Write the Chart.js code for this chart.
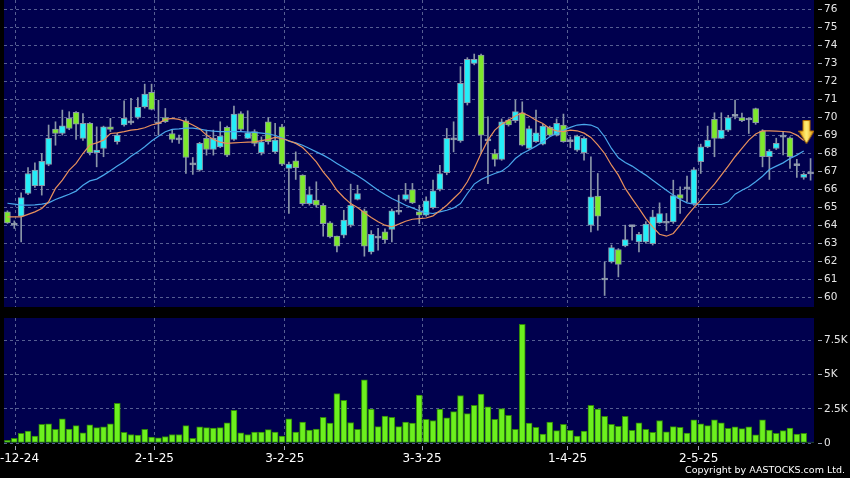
<!DOCTYPE html>
<html>
<head>
<meta charset="utf-8">
<title>Daily chart</title>
<script src="https://cdn.jsdelivr.net/npm/chart.js@4.4.1/dist/chart.umd.min.js"></script>
<style>
  html, body { margin: 0; padding: 0; background: #000; }
  #wrap { position: relative; width: 850px; height: 478px; overflow: hidden; background: #000; }
  #priceChart { position: absolute; left: 0; top: 0; }
  #volChart { position: absolute; left: 0; top: 310px; }
  #copy { position: absolute; right: 5px; top: 464px; color: #fff; font: 9.5px 'DejaVu Sans', sans-serif; white-space: nowrap; }
</style>
</head>
<body>
<div id="wrap">
  <canvas id="priceChart" width="850" height="307"></canvas>
  <canvas id="volChart" width="850" height="168"></canvas>
  <div id="copy">Copyright by AASTOCKS.com Ltd.</div>
</div>
<script>
// one value per trading day, oldest first
const opens = [64.74,64.0,64.5,65.76,66.2,66.2,67.37,69.33,69.09,69.93,
  70.26,68.82,69.65,68.02,68.26,69.46,68.63,69.56,69.68,69.98,
  70.57,71.37,69.63,69.98,69.09,68.74,69.8,67.35,67.06,68.82,
  68.2,68.35,69.43,68.76,70.2,68.82,69.19,68.02,69.74,68.07,
  69.46,67.15,67.57,66.78,65.2,65.39,65.11,64.13,63.39,63.44,
  64.0,65.43,64.8,62.52,63.28,63.63,63.76,64.72,65.43,65.98,
  64.74,64.56,64.98,65.98,66.91,68.74,68.68,70.79,72.98,73.44,
  68.68,67.98,67.65,69.83,69.8,70.24,68.26,68.63,68.5,69.43,
  69.0,69.56,68.64,68.17,68.02,64.0,65.61,60.96,61.96,62.65,
  62.85,63.92,63.07,63.07,62.98,64.13,64.11,64.18,65.7,66.02,
  65.2,67.52,68.35,69.87,68.82,69.28,70.04,69.98,69.84,70.48,
  69.24,67.8,68.26,68.89,68.85,67.31,66.65,66.85];
const highs = [64.8,64.24,65.8,67.2,67.46,67.98,69.56,69.74,70.39,70.3,
  70.3,70.2,69.7,69.46,69.5,69.93,69.1,70.91,71.04,71.09,
  71.83,71.83,70.94,70.48,69.3,69.0,69.9,67.76,68.6,69.28,
  69.28,69.74,69.5,70.61,70.3,70.35,69.3,68.9,69.98,69.65,
  69.6,67.5,68.07,66.8,66.13,66.41,65.2,64.2,63.4,64.83,
  66.28,66.22,64.9,63.7,63.82,63.8,64.9,65.67,66.32,66.32,
  65.11,65.57,66.5,67.33,69.37,69.74,72.8,73.3,73.5,73.5,
  70.02,68.2,69.9,69.9,70.94,70.85,69.5,70.39,69.6,69.5,
  69.9,70.17,68.9,69.0,68.9,67.8,66.87,61.96,62.9,62.7,
  64.0,64.0,63.6,64.2,64.83,65.24,64.65,66.5,66.13,66.72,
  67.2,68.5,69.5,70.24,70.24,70.1,70.94,70.22,69.95,70.5,
  69.3,68.2,68.83,69.2,68.9,67.65,66.9,67.7];
const lows = [64.1,63.82,63.07,65.7,66.1,65.67,67.3,68.44,69.0,69.3,
  68.76,68.7,67.9,67.24,67.8,69.2,68.5,69.5,69.6,69.9,
  70.5,70.4,69.0,69.7,68.6,68.54,66.87,66.82,67.0,67.89,
  67.89,68.3,67.8,68.7,69.2,68.8,68.4,67.9,68.5,68.0,
  67.3,64.65,66.54,65.1,65.11,65.0,63.39,63.3,62.52,63.3,
  63.9,65.4,62.28,62.4,62.61,63.0,63.07,64.6,65.35,65.2,
  64.09,64.5,64.9,65.9,66.8,68.07,68.6,70.67,72.9,67.98,
  66.3,67.28,67.6,69.5,69.7,68.4,68.2,68.6,68.45,68.95,
  68.95,68.6,68.3,68.1,67.61,63.63,63.72,60.1,61.9,61.13,
  62.8,63.17,62.52,63.0,62.9,64.1,63.7,64.1,64.65,65.3,
  65.1,66.87,68.3,67.8,68.8,69.2,69.9,69.75,69.09,69.6,
  67.24,66.54,68.2,67.9,67.15,66.65,66.55,66.5];
const closes = [64.13,64.05,65.54,66.87,67.06,67.54,68.82,69.09,69.52,69.37,
  69.61,69.65,68.02,68.17,69.46,69.31,69.0,69.93,69.72,70.54,
  71.28,70.43,69.67,69.74,68.76,68.78,67.76,67.39,68.54,68.2,
  68.82,68.94,67.89,70.17,69.31,69.13,68.54,68.63,68.63,68.72,
  67.39,67.39,67.2,65.2,65.7,65.11,64.09,63.35,62.83,64.28,
  65.11,65.76,62.83,63.5,63.32,63.2,64.8,64.78,65.7,65.24,
  64.56,65.35,65.91,66.87,68.82,68.78,71.87,73.2,73.2,69.0,
  68.74,67.65,69.74,69.56,70.3,68.44,69.37,69.13,69.5,69.0,
  69.65,68.63,68.68,68.94,68.82,65.57,64.5,61.0,62.76,61.83,
  63.2,63.96,63.5,64.06,64.46,64.65,64.15,65.65,65.48,66.06,
  67.09,68.35,68.72,68.82,69.28,69.98,70.08,69.8,69.88,69.69,
  67.8,68.11,68.54,68.93,67.8,67.35,66.82,66.89];
// orange (short) and blue (long) moving averages as drawn
const maShort = [64.46,64.46,64.46,64.6,64.74,64.93,65.3,66.04,66.5,67.06,
  67.43,67.98,68.45,68.57,68.72,69.09,69.13,69.19,69.28,69.32,
  69.41,69.56,69.65,69.87,69.93,69.87,69.74,69.56,69.35,69.0,
  68.76,68.61,68.54,68.57,68.59,68.61,68.63,68.69,68.76,68.87,
  68.81,68.69,68.54,68.31,67.93,67.52,66.96,66.5,65.94,65.54,
  65.2,64.98,64.69,64.43,64.19,64.0,63.91,64.06,64.22,64.33,
  64.37,64.4,64.52,64.8,65.11,65.48,65.85,66.41,67.15,67.98,
  68.72,69.28,69.61,69.83,70.06,70.24,70.06,69.83,69.65,69.37,
  69.24,69.19,69.28,69.24,69.11,68.87,68.46,67.98,67.33,66.78,
  66.04,65.48,64.93,64.37,63.91,63.5,63.39,63.54,64.0,64.52,
  64.98,65.39,65.85,66.28,66.78,67.28,67.8,68.26,68.72,69.06,
  69.24,69.24,69.22,69.2,69.17,69.0,68.7];
const maLong = [65.22,65.17,65.11,65.11,65.13,65.17,65.24,65.43,65.57,65.72,
  65.89,66.22,66.46,66.56,66.78,67.02,67.28,67.52,67.83,68.07,
  68.35,68.67,68.94,69.19,69.32,69.35,69.39,69.39,69.33,69.26,
  69.22,69.19,69.19,69.19,69.19,69.17,69.15,69.11,69.07,68.98,
  68.85,68.67,68.57,68.44,68.26,68.07,67.89,67.67,67.43,67.2,
  66.96,66.74,66.5,66.22,65.94,65.7,65.48,65.3,65.11,64.96,
  64.8,64.69,64.65,64.74,64.83,64.96,65.2,65.76,66.28,66.54,
  66.72,66.87,67.0,67.28,67.7,67.98,68.17,68.39,68.63,68.91,
  69.09,69.28,69.43,69.56,69.6,69.56,69.4,68.91,68.26,67.74,
  67.48,67.28,67.02,66.78,66.5,66.22,65.94,65.67,65.43,65.24,
  65.17,65.15,65.15,65.15,65.15,65.3,65.72,65.94,66.13,66.41,
  66.72,67.09,67.28,67.46,67.7,67.89,68.12];
const volumes = [200,350,700,875,500,1375,1400,1000,1775,1025,
  1275,750,1325,1125,1175,1400,2900,775,625,575,
  1000,425,375,475,625,625,1275,350,1175,1125,
  1100,1125,1475,2400,750,625,800,800,975,800,
  500,1775,800,1525,950,1025,1875,1450,3625,3125,
  1500,1000,4625,2475,1200,1975,1875,1200,1525,1450,
  3500,1725,1650,2475,1850,2300,3475,2150,2750,3575,
  2650,1725,2525,2025,1000,8680,1450,1150,650,1525,
  900,1375,925,500,875,2750,2475,1950,1375,1225,
  1950,925,1475,1000,775,1650,825,1200,1150,725,
  1700,1400,1275,1700,1475,1075,1175,1050,1175,600,
  1700,950,700,900,1100,650,700,70];

const dateLabels = ['2-12-24', '2-1-25', '3-2-25', '3-3-25', '1-4-25', '2-5-25'];
const dateTickIdx = [1.2, 21.4, 40.4, 60.4, 81.6, 100.7];
const priceTicks = [60,61,62,63,64,65,66,67,68,69,70,71,72,73,74,75,76];
const volTicks = [0, 2500, 5000, 7500];
const volTickLabels = ['0', '2.5K', '5K', '7.5K'];
// sell signal arrow (day index, price)
const signal = [{ x: 116.4, y: 69.17 }];

Chart.defaults.font.family = "'DejaVu Sans', sans-serif";

const NAVY = '#00004e';
const GRID = '#565e92';
const UP = '#24eef8';
const DOWN = '#7de82c';
const FLAT = '#a4acbc';
const EDGE = '#8a96a8';

const navyFill = {
  id: 'navyFill',
  beforeDraw(chart) {
    const { ctx, chartArea: a } = chart;
    ctx.save();
    ctx.fillStyle = NAVY;
    ctx.fillRect(a.left, a.top, a.width, a.height);
    ctx.restore();
  }
};

function makeArrow() {
  const c = document.createElement('canvas');
  c.width = 16; c.height = 24;
  const g = c.getContext('2d');
  const grad = g.createLinearGradient(0, 0, 16, 0);
  grad.addColorStop(0, '#e89a00');
  grad.addColorStop(0.5, '#fff27a');
  grad.addColorStop(1, '#e08c00');
  g.fillStyle = grad;
  g.beginPath();
  g.moveTo(4.5, 0.5); g.lineTo(11.5, 0.5); g.lineTo(11.5, 11);
  g.lineTo(15.5, 11); g.lineTo(8, 23.5); g.lineTo(0.5, 11); g.lineTo(4.5, 11);
  g.closePath();
  g.fill();
  g.strokeStyle = '#b87000';
  g.lineWidth = 1;
  g.stroke();
  return c;
}

const xMin = -0.5, xMax = 117.5;

function candleColor(i) {
  const d = closes[i] - opens[i];
  if (Math.abs(d) < 0.065) return FLAT;
  return d > 0 ? UP : DOWN;
}

new Chart(document.getElementById('priceChart'), {
  type: 'bar',
  data: {
    datasets: [
      {
        type: 'line', label: 'signal', data: signal, showLine: false,
        pointStyle: makeArrow(), pointRadius: 8, clip: false, order: -2
      },
      {
        type: 'line', label: 'MA short', data: maShort.map((v, i) => ({ x: i, y: v })),
        borderColor: '#e8905c', borderWidth: 1.2, pointRadius: 0, order: -1
      },
      {
        type: 'line', label: 'MA long', data: maLong.map((v, i) => ({ x: i, y: v })),
        borderColor: '#4aa8ec', borderWidth: 1.2, pointRadius: 0, order: -1
      },
      {
        label: 'body', data: opens.map((o, i) => ({ x: i, y: [o, closes[i]] })),
        backgroundColor: opens.map((o, i) => candleColor(i)),
        borderColor: EDGE, borderWidth: 1, borderSkipped: false,
        barThickness: 6, minBarLength: 2, grouped: false, order: 0
      },
      {
        label: 'wick', data: lows.map((l, i) => ({ x: i, y: [l, highs[i]] })),
        backgroundColor: EDGE, barThickness: 1, grouped: false, order: 1
      }
    ]
  },
  options: {
    responsive: false,
    animation: false,
    devicePixelRatio: 1,
    layout: { autoPadding: false, padding: { left: 4, top: 0, right: 0, bottom: 0 } },
    plugins: { legend: { display: false }, tooltip: { enabled: false } },
    scales: {
      x: {
        type: 'linear', min: xMin, max: xMax, offset: false,
        afterBuildTicks: s => { s.ticks = dateTickIdx.map(v => ({ value: v })); },
        afterFit: s => { s.height = 0; s.paddingLeft = 0; s.paddingRight = 0; },
        ticks: { display: false },
        grid: { color: GRID, drawTicks: false, offset: false },
        border: { display: false, dash: [3, 3] }
      },
      y: {
        position: 'right', min: 59.46, max: 76.5,
        afterBuildTicks: s => { s.ticks = priceTicks.map(v => ({ value: v })); },
        afterFit: s => { s.width = 36; s.paddingTop = 0; s.paddingBottom = 0; },
        ticks: { color: '#e6e6e6', font: { size: 10.5 }, padding: 2 },
        grid: { color: GRID, tickLength: 8, tickColor: '#a0a6b6', tickBorderDash: [0, 4, 4, 20] },
        border: { display: false, dash: [3, 3] }
      }
    }
  },
  plugins: [navyFill]
});

new Chart(document.getElementById('volChart'), {
  type: 'bar',
  data: {
    datasets: [{
      label: 'volume', data: volumes.map((v, i) => ({ x: i, y: v })),
      backgroundColor: ctx => ctx.dataIndex === volumes.length - 1 ? '#2e4e3a' : '#6cf01e',
      borderColor: '#2f8608', borderWidth: 1, borderSkipped: false,
      barThickness: 6
    }]
  },
  options: {
    responsive: false,
    animation: false,
    devicePixelRatio: 1,
    layout: { autoPadding: false, padding: { left: 4, top: 8, right: 0, bottom: 0 } },
    plugins: { legend: { display: false }, tooltip: { enabled: false } },
    scales: {
      x: {
        type: 'linear', min: xMin, max: xMax, offset: false,
        afterBuildTicks: s => { s.ticks = dateTickIdx.map(v => ({ value: v })); },
        afterFit: s => { s.height = 35; s.paddingLeft = 0; s.paddingRight = 0; },
        ticks: {
          color: '#ffffff', font: { size: 12 }, padding: 2,
          minRotation: 0, maxRotation: 0, autoSkip: false,
          callback: (v, i) => dateLabels[i]
        },
        grid: { color: GRID, tickLength: 7, tickColor: '#a0a6b6', tickBorderDash: [0, 3, 4, 20], offset: false },
        border: { display: false, dash: [3, 3] }
      },
      y: {
        position: 'right', min: 0, max: 9150,
        afterBuildTicks: s => { s.ticks = volTicks.map(v => ({ value: v })); },
        afterFit: s => { s.width = 36; s.paddingTop = 0; s.paddingBottom = 0; },
        ticks: { color: '#e6e6e6', font: { size: 10.5 }, padding: 2, callback: (v, i) => volTickLabels[i] },
        grid: { color: GRID, tickLength: 8, tickColor: '#a0a6b6', tickBorderDash: [0, 4, 4, 20] },
        border: { display: false, dash: [3, 3] }
      }
    }
  },
  plugins: [navyFill]
});
</script>
</body>
</html>
